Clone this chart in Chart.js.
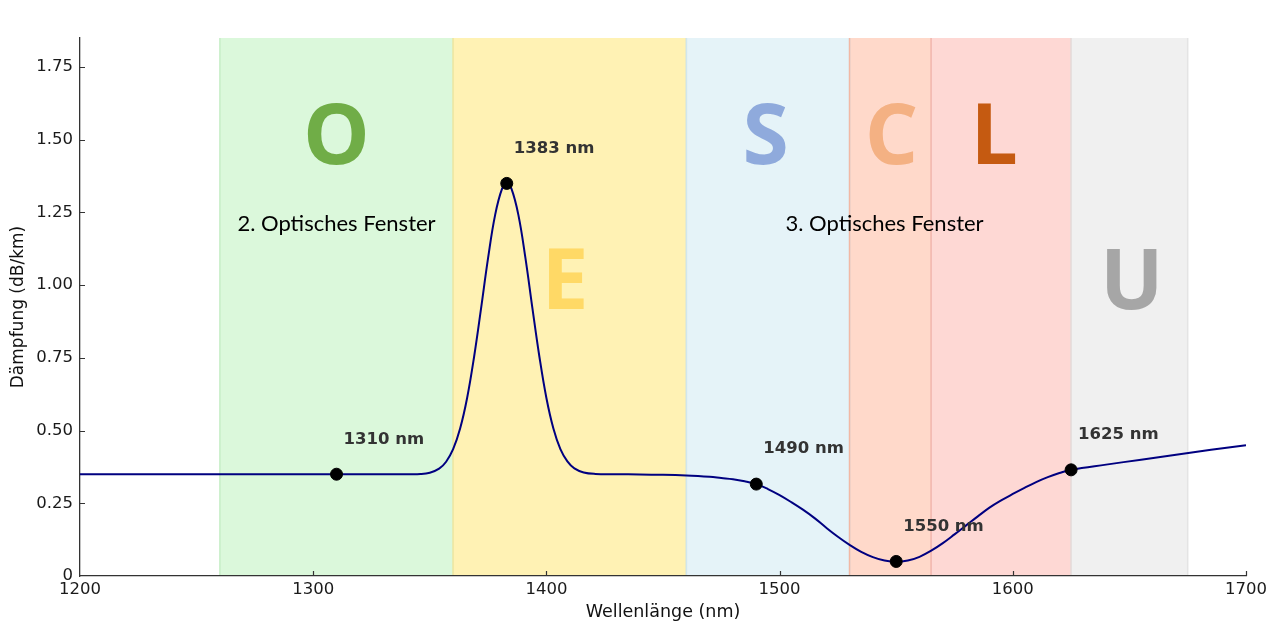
<!DOCTYPE html>
<html>
<head>
<meta charset="utf-8">
<script src="https://cdn.jsdelivr.net/npm/chart.js@4.4.1/dist/chart.umd.min.js"></script>
<style>
html,body{margin:0;padding:0;background:#fff;}
#wrap{width:1280px;height:634px;position:relative;}
</style>
</head>
<body>
<div id="wrap"><canvas id="c" width="1280" height="634"></canvas></div>
<script>
// ---- data ----
const wavelength = [1200,1250,1300,1310,1330,1340,1346,1350,1354,1357,1360,1363,1366,1369,1372,1375,1378,1381,1383,1385,1388,1391,1394,1397,1400,1403,1406,1409,1412,1416,1421,1430,1440,1450,1460,1465,1470,1475,1480,1485,1490,1495,1500,1505,1510,1515,1520,1525,1530,1535,1540,1545,1550,1555,1560,1565,1570,1575,1580,1585,1590,1595,1600,1605,1610,1615,1620,1625,1640,1655,1670,1685,1700];
const attenuation = [0.35,0.35,0.35,0.35,0.35,0.35,0.3505,0.355,0.369,0.393,0.436,0.507,0.612,0.754,0.921,1.094,1.241,1.332,1.35,1.332,1.241,1.094,0.921,0.754,0.612,0.507,0.436,0.394,0.370,0.356,0.351,0.35,0.349,0.348,0.346,0.344,0.341,0.337,0.333,0.326,0.316,0.299,0.278,0.254,0.228,0.199,0.166,0.135,0.107,0.083,0.065,0.053,0.048,0.053,0.066,0.087,0.113,0.143,0.174,0.205,0.235,0.260,0.282,0.303,0.323,0.340,0.354,0.365,0.383,0.400,0.417,0.434,0.450];

const markerNm = [1310,1383,1490,1550,1625];
const markerDb = [0.35,1.35,0.316,0.05,0.365];
const markerLabels = ["1310 nm","1383 nm","1490 nm","1550 nm","1625 nm"];

const bandNames  = ["O","E","S","C","L","U"];
const bandStart  = [1260,1360,1460,1530,1565,1625];
const bandEnd    = [1360,1460,1530,1565,1625,1675];
const bandFill   = ["#dbf8db","#fff2b4","#e5f3f8","#ffd9ca","#fed8d4","#f0f0f0"];
const bandEdge   = ["#c6eec6","#f6e7a0","#d0e6ee","#f2b8a4","#f4bcb6","#e4e4e4"];
const letterX    = [1310,1408,1494,1548,1592,1651];
const letterY    = [1.50,1.00,1.50,1.50,1.50,1.00];
const letterColor= ["#70AD47","#FFD966","#8FAADC","#F4B183","#C55A11","#A6A6A6"];

const windowTexts = ["2. Optisches Fenster","3. Optisches Fenster"];
const windowX = [1310,1545];
const windowY = [1.21,1.21];

const xTicks = [1200,1300,1400,1500,1600,1700];
const yTicks = [0,0.25,0.5,0.75,1.0,1.25,1.5,1.75];

// ---- plugin for bands, letters, labels, inward ticks ----
const deco = {
  id:'deco',
  beforeDraw(chart){
    const {ctx, chartArea:{top,bottom}, scales:{x,y}} = chart;
    ctx.save();
    for(let i=0;i<bandNames.length;i++){
      const x0 = x.getPixelForValue(bandStart[i]);
      const x1 = x.getPixelForValue(bandEnd[i]);
      ctx.fillStyle = bandFill[i];
      ctx.fillRect(x0, top, x1-x0, bottom-top);
    }
    for(let i=0;i<bandNames.length;i++){
      const x0 = x.getPixelForValue(bandStart[i]);
      const x1 = x.getPixelForValue(bandEnd[i]);
      ctx.strokeStyle = bandEdge[i];
      ctx.lineWidth = 1.5;
      ctx.beginPath();
      ctx.moveTo(x0, top); ctx.lineTo(x0, bottom);
      ctx.moveTo(x1, top); ctx.lineTo(x1, bottom);
      ctx.stroke();
    }
    ctx.textAlign='center';
    ctx.textBaseline='middle';
    ctx.font = '700 84px "Open Sans"';
    for(let i=0;i<bandNames.length;i++){
      ctx.fillStyle = letterColor[i];
      ctx.fillText(bandNames[i], x.getPixelForValue(letterX[i]), y.getPixelForValue(letterY[i]));
    }
    ctx.font = '22px Lato';
    ctx.fillStyle = '#000';
    for(let i=0;i<windowTexts.length;i++){
      ctx.fillText(windowTexts[i], x.getPixelForValue(windowX[i]), y.getPixelForValue(windowY[i]));
    }
    ctx.restore();
  },
  afterDraw(chart){
    const {ctx, chartArea:{top,bottom,left,right}, scales:{x,y}} = chart;
    ctx.save();
    ctx.strokeStyle = '#333';
    ctx.lineWidth = 1.2;
    ctx.beginPath();
    xTicks.forEach(v=>{ const px = Math.round(x.getPixelForValue(v))+0.5; if(px>left+2){ ctx.moveTo(px,bottom); ctx.lineTo(px,bottom-5);} });
    yTicks.forEach(v=>{ const py = Math.round(y.getPixelForValue(v))+0.5; if(py<bottom-2){ ctx.moveTo(left,py); ctx.lineTo(left+5,py);} });
    ctx.stroke();
    ctx.font = 'bold 16.5px "DejaVu Sans"';
    ctx.fillStyle = '#333';
    ctx.textAlign='left';
    ctx.textBaseline='middle';
    for(let i=0;i<markerNm.length;i++){
      ctx.fillText(markerLabels[i], x.getPixelForValue(markerNm[i]+3), y.getPixelForValue(markerDb[i]+0.12));
    }
    ctx.restore();
  }
};

new Chart(document.getElementById('c'), {
  type:'line',
  data:{
    datasets:[
      {
        data: wavelength.map((w,i)=>({x:w,y:attenuation[i]})),
        borderColor:'#000080',
        borderWidth:2,
        pointRadius:0,
        tension:0.4,
        fill:false,
        order:2
      },
      {
        type:'scatter',
        data: markerNm.map((w,i)=>({x:w,y:markerDb[i]})),
        backgroundColor:'#000',
        borderColor:'#000',
        pointRadius:6,
        pointHoverRadius:6,
        showLine:false,
        order:1,
        clip:false
      }
    ]
  },
  options:{
    responsive:false,
    animation:false,
    events:[],
    layout:{padding:{left:0,right:34,top:38,bottom:0}},
    plugins:{legend:{display:false},tooltip:{enabled:false}},
    scales:{
      x:{
        type:'linear', min:1200, max:1700,
        afterBuildTicks: s => { s.ticks = xTicks.map(v=>({value:v})); },
        afterFit: s => { s.height = 58; },
        grid:{display:false, drawTicks:false},
        border:{display:true,color:'#333',width:1.3},
        ticks:{color:'#1a1a1a',font:{family:'DejaVu Sans',size:16.5},padding:4,maxRotation:0,autoSkip:false,
          callback:v=>String(v)},
        title:{display:true,text:'Wellenlänge (nm)',color:'#111',font:{family:'DejaVu Sans',size:17.5},padding:{top:0,bottom:11}}
      },
      y:{
        type:'linear', min:0, max:1.85,
        afterBuildTicks: s => { s.ticks = yTicks.map(v=>({value:v})); },
        afterFit: s => { s.width = 80; },
        grid:{display:false, drawTicks:false},
        border:{display:true,color:'#333',width:1.3},
        ticks:{color:'#1a1a1a',font:{family:'DejaVu Sans',size:16.5},padding:7,autoSkip:false,
          callback:v=> v===0 ? '0' : v.toFixed(2)},
        title:{display:true,text:'Dämpfung (dB/km)',color:'#111',font:{family:'DejaVu Sans',size:17},padding:{top:8,bottom:0}}
      }
    }
  },
  plugins:[deco]
});
</script>
</body>
</html>
